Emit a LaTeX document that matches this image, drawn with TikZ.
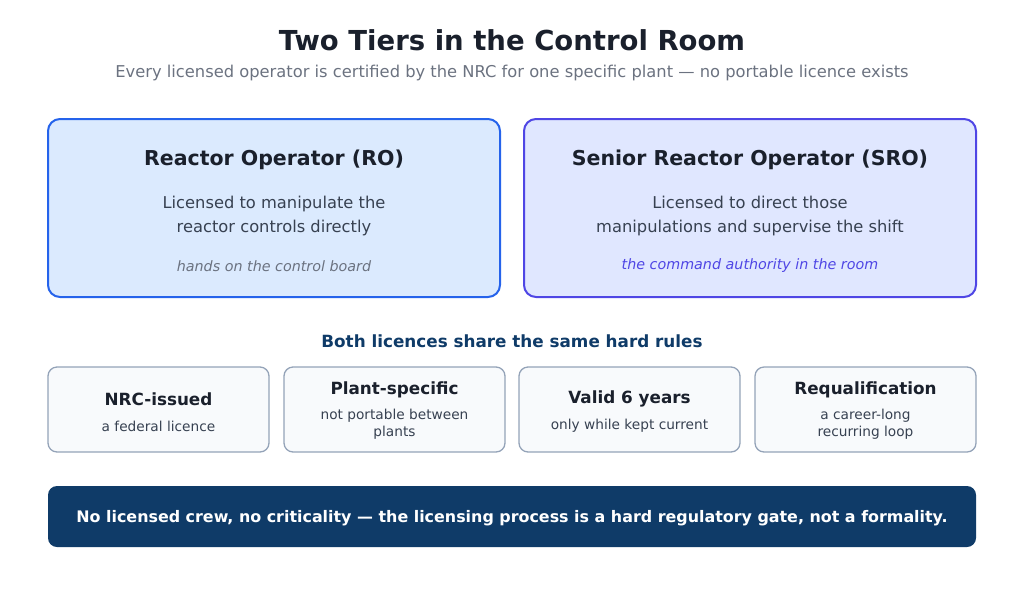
\documentclass[tikz,border=0pt]{standalone}
\usepackage{fontspec}
\setmainfont{DejaVu Sans}
\begin{document}
\definecolor{ink}{HTML}{1A202C}
\definecolor{gr}{HTML}{6B7280}
\definecolor{body}{HTML}{374151}
\definecolor{navy}{HTML}{0F3B68}
\definecolor{roF}{HTML}{DBEAFE}\definecolor{roB}{HTML}{2563EB}
\definecolor{srF}{HTML}{E0E7FF}\definecolor{srB}{HTML}{4F46E5}
\definecolor{rF}{HTML}{F8FAFC}\definecolor{rB}{HTML}{94A3B8}
\begin{tikzpicture}[x=1pt,y=-1pt,
 big/.style={draw,line width=2pt,rounded corners=12pt},
 rule/.style={draw=rB,fill=rF,line width=1.3pt,rounded corners=9pt},
 t/.style={anchor=center,inner sep=0pt,align=center}]
\useasboundingbox (0,0) rectangle (1024,595);
\node[t,font=\bfseries\fontsize{27.5}{30}\selectfont,text=ink] (title) at (512,40) {Two Tiers in the Control Room};
\node[t,font=\fontsize{16.3}{18}\selectfont,text=gr] (sub) at (512,73) {Every licensed operator is certified by the NRC for one specific plant — no portable licence exists};
\path[big,fill=roF,draw=roB] (48,119) rectangle (500,297);
\path[big,fill=srF,draw=srB] (524,119) rectangle (976,297);
\node[t,text=ink,font=\bfseries\fontsize{20.5}{24}\selectfont] (rot) at (274,160) {Reactor Operator (RO)};
\node[t,text=body,font=\fontsize{16.3}{24}\selectfont] (rob) at (274,216) {Licensed to manipulate the\\reactor controls directly};
\node[t,text=gr,font=\itshape\fontsize{14.3}{17}\selectfont] (roi) at (274,266) {hands on the control board};
\node[t,text=ink,font=\bfseries\fontsize{20.5}{24}\selectfont] (srt) at (750,160) {Senior Reactor Operator (SRO)};
\node[t,text=body,font=\fontsize{16.3}{24}\selectfont] (srb) at (750,216) {Licensed to direct those\\manipulations and supervise the shift};
\node[t,text=srB,font=\itshape\fontsize{14.3}{17}\selectfont] (sri) at (750,266) {the command authority in the room};
\node[t,text=navy,font=\bfseries\fontsize{16.8}{20}\selectfont] (hd) at (512,341) {Both licences share the same hard rules};
\foreach \x in {48,284,519,755}{
 \path[rule] (\x,367) rectangle ++(221,85);
}
\node[t,text=ink,font=\bfseries\fontsize{16.8}{20}\selectfont] (r1t) at (158.5,399) {NRC-issued};
\node[t,text=body,font=\fontsize{13.7}{17}\selectfont] (r1s) at (158.5,426) {a federal licence};
\node[t,text=ink,font=\bfseries\fontsize{16.8}{20}\selectfont] (r2t) at (394.5,390) {Plant-specific};
\node[t,text=body,font=\fontsize{13.7}{17}\selectfont] (r2s) at (394.5,424) {not portable between\\plants};
\node[t,text=ink,font=\bfseries\fontsize{16.8}{20}\selectfont] (r3t) at (629.5,399) {Valid 6 years};
\node[t,text=body,font=\fontsize{13.7}{17}\selectfont] (r3s) at (629.5,426) {only while kept current};
\node[t,text=ink,font=\bfseries\fontsize{16.8}{20}\selectfont] (r4t) at (865.5,390) {Requalification};
\node[t,text=body,font=\fontsize{13.7}{17}\selectfont] (r4s) at (865.5,424) {a career-long\\recurring loop};
\path[fill=navy,rounded corners=9pt] (48,486) rectangle (976,547);
\node[t,text=white,font=\bfseries\fontsize{15.9}{18}\selectfont] (bar) at (512,518) {No licensed crew, no criticality — the licensing process is a hard regulatory gate, not a formality.};
\end{tikzpicture}
\end{document}
